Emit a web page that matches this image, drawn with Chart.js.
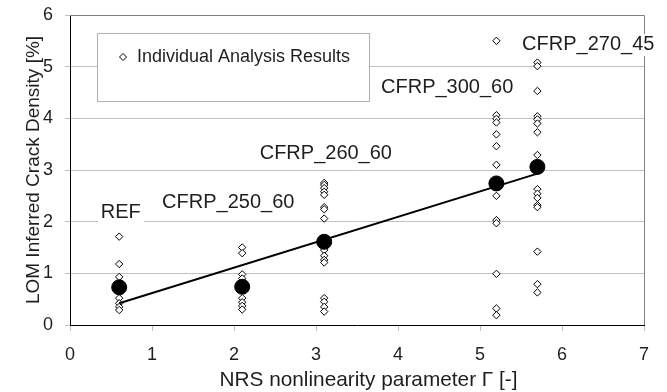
<!DOCTYPE html>
<html>
<head>
<meta charset="utf-8">
<script src="https://cdn.jsdelivr.net/npm/chart.js@4.4.1/dist/chart.umd.min.js"></script>
<style>
  html, body { margin: 0; padding: 0; background: #fff; }
  #wrap { width: 667px; height: 392px; }
</style>
</head>
<body>
<div id="wrap"><canvas id="chart"></canvas></div>
<script>
// Nonlinearity parameter for each specimen group
const groupNames = ["REF", "CFRP_250_60", "CFRP_260_60", "CFRP_300_60", "CFRP_270_45"];
const groupGamma = [0.6, 2.1, 3.1, 5.2, 5.7];

// Crack density of every individual analysis [%]
const refResults = [1.71, 1.18, 0.93, 0.52, 0.42, 0.35, 0.29];
const cfrp250Results = [1.50, 1.39, 0.98, 0.90, 0.52, 0.44, 0.37, 0.30];
const cfrp260Results = [2.75, 2.71, 2.65, 2.58, 2.52, 2.28, 2.24, 2.06, 1.45, 1.34, 1.26, 1.21, 0.52, 0.45, 0.35, 0.26];
const cfrp300Results = [5.50, 4.06, 3.99, 3.92, 3.69, 3.46, 3.10, 2.50, 2.03, 1.97, 0.99, 0.32, 0.19];
const cfrp270Results = [5.08, 5.01, 4.53, 4.04, 3.98, 3.90, 3.73, 3.29, 2.63, 2.54, 2.46, 2.32, 2.28, 1.42, 0.79, 0.63];

// Group averages and the linear fit through them
const meanDensity = [0.73, 0.74, 1.61, 2.74, 3.06];
const fitGamma = [0.6, 5.7];
const fitDensity = [0.42, 2.93];

const xTicks = [0, 1, 2, 3, 4, 5, 6, 7];
const yTicks = [0, 1, 2, 3, 4, 5, 6];

const allResults = [refResults, cfrp250Results, cfrp260Results, cfrp300Results, cfrp270Results];
const individualPoints = [];
allResults.forEach((vals, g) => {
  vals.forEach(v => individualPoints.push({ x: groupGamma[g], y: v }));
});

const FONT = "'Liberation Sans', Arial, sans-serif";
const TEXT = "#1e1e1e";
const X_TITLE = "NRS nonlinearity parameter Γ [-]";

// where each group name is written (data units)
const labelAnchors = [
  { x: 0.62, y: 2.17 },
  { x: 1.93, y: 2.38 },
  { x: 3.12, y: 3.31 },
  { x: 4.60, y: 4.59 },
  { x: 6.32, y: 5.42 }
];

const plotFrame = {
  id: "plotFrame",
  beforeDatasetsDraw(chart) {
    const { ctx, chartArea: a } = chart;
    ctx.save();
    ctx.strokeStyle = "#808080";
    ctx.lineWidth = 1;
    ctx.beginPath();
    ctx.moveTo(a.left, a.top + 0.5);
    ctx.lineTo(a.right + 0.5, a.top + 0.5);
    ctx.lineTo(a.right + 0.5, a.bottom);
    ctx.stroke();
    ctx.restore();
  }
};

const groupLabels = {
  id: "groupLabels",
  afterDatasetsDraw(chart) {
    const { ctx, scales } = chart;
    const a = chart.chartArea;
    ctx.save();
    ctx.font = "20px " + FONT;
    ctx.textAlign = "center";
    ctx.textBaseline = "middle";
    groupNames.forEach((name, i) => {
      const px = scales.x.getPixelForValue(labelAnchors[i].x);
      const py = scales.y.getPixelForValue(labelAnchors[i].y);
      const w = ctx.measureText(name).width;
      ctx.fillStyle = "#fff";
      ctx.fillRect(px - w / 2 - 3, py - 11, w + 6, 22);
      ctx.fillStyle = TEXT;
      ctx.fillText(name, px, py);
    });

    // x axis title, centred between the plot's left edge and the canvas edge
    ctx.font = "20.8px " + FONT;
    ctx.fillText(X_TITLE, (a.left + chart.width) / 2, scales.x.bottom - 12);

    // legend box
    const bx = a.left + 27, by = a.top + 18, bw = 272, bh = 68;
    ctx.fillStyle = "#fff";
    ctx.fillRect(bx, by, bw, bh);
    ctx.strokeStyle = "#b0b0b0";
    ctx.lineWidth = 1;
    ctx.strokeRect(bx + 0.5, by + 0.5, bw, bh);
    const dx = bx + 26, dy = by + 24;
    ctx.beginPath();
    ctx.moveTo(dx, dy - 3.5);
    ctx.lineTo(dx + 3.5, dy);
    ctx.lineTo(dx, dy + 3.5);
    ctx.lineTo(dx - 3.5, dy);
    ctx.closePath();
    ctx.strokeStyle = "#000";
    ctx.stroke();
    ctx.font = "18px " + FONT;
    ctx.textAlign = "left";
    ctx.fillStyle = TEXT;
    ctx.fillText("Individual Analysis Results", bx + 40, dy);
    ctx.restore();
  }
};

new Chart(document.getElementById("chart"), {
  type: "scatter",
  data: {
    datasets: [
      {
        label: "Mean",
        data: groupGamma.map((g, i) => ({ x: g, y: meanDensity[i] })),
        pointStyle: "circle",
        pointRadius: 7.5,
        pointBackgroundColor: "#000",
        pointBorderColor: "#000",
        order: 0
      },
      {
        label: "Fit",
        type: "line",
        data: fitGamma.map((g, i) => ({ x: g, y: fitDensity[i] })),
        borderColor: "#000",
        borderWidth: 2,
        pointRadius: 0,
        order: 1
      },
      {
        label: "Individual Analysis Results",
        data: individualPoints,
        pointStyle: "rectRot",
        pointRadius: 3.7,
        pointBackgroundColor: "#fff",
        pointBorderColor: "#000",
        pointBorderWidth: 1,
        order: 2
      }
    ]
  },
  plugins: [plotFrame, groupLabels],
  options: {
    responsive: true,
    maintainAspectRatio: false,
    animation: false,
    layout: {
      padding: { top: 15, right: 23, left: 0, bottom: 0 }
    },
    plugins: {
      legend: { display: false },
      tooltip: { enabled: false }
    },
    scales: {
      x: {
        type: "linear",
        min: 0,
        max: 7,
        afterBuildTicks: (s) => { s.ticks = xTicks.map(v => ({ value: v })); },
        afterFit: (s) => {
          s.height = 67;
          s.paddingLeft = 0;
          s.paddingRight = 0;
        },
        grid: {
          drawOnChartArea: false,
          tickLength: 6,
          color: "#c0c0c0"
        },
        border: { color: "#000", width: 1 },
        ticks: {
          padding: 13,
          color: TEXT,
          font: { family: FONT, size: 18 }
        }
      },
      y: {
        min: 0,
        max: 6,
        afterBuildTicks: (s) => { s.ticks = yTicks.map(v => ({ value: v })); },
        afterFit: (s) => {
          s.width = 70;
          s.paddingTop = 0;
          s.paddingBottom = 0;
        },
        grid: {
          tickLength: 5,
          color: "#c0c0c0"
        },
        border: { color: "#000", width: 1 },
        ticks: {
          padding: 12,
          color: TEXT,
          font: { family: FONT, size: 18 }
        },
        title: {
          display: true,
          text: "LOM Inferred Crack Density [%]",
          color: TEXT,
          font: { family: FONT, size: 19 },
          padding: { top: 22, bottom: 0 }
        }
      }
    }
  }
});
</script>
</body>
</html>
